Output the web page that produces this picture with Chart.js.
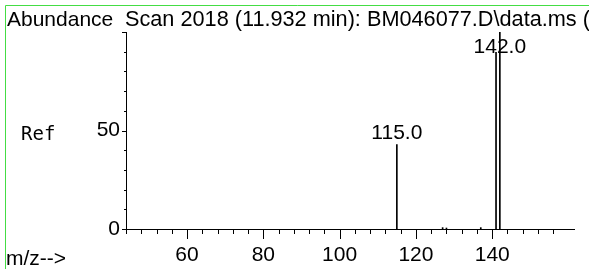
<!DOCTYPE html>
<html>
<head>
<meta charset="utf-8">
<script src="https://cdn.jsdelivr.net/npm/chart.js@4.4.0/dist/chart.umd.min.js"></script>
<style>
  html, body { margin: 0; padding: 0; background: #fff; }
  #wrap { width: 589px; height: 269px; }
</style>
</head>
<body>
<div id="wrap"><canvas id="spectre" width="589" height="269"></canvas></div>
<script>
// Données du spectre
const mzValues = [115, 127, 128, 137, 141, 142];
const abundances = [42.9, 0.7, 0.5, 0.7, 89.7, 100];
const peakLabels = ['115.0', '', '', '', '', '142.0'];
const xTickLabels = [60, 80, 100, 120, 140];
const yTickLabels = [0, 50];
const titleText = 'Scan 2018 (11.932 min): BM046077.D\\data.ms (';

const FONT = '21px "Liberation Sans", Arial, sans-serif';
const TITLE_FONT = '21.7px "Liberation Sans", Arial, sans-serif';
const REF_FONT = '19px "DejaVu Sans Mono", monospace';

// Cadre, axes, graduations et textes
const decorPlugin = {
    id: 'decor',
    beforeDraw(chart) {
        const ctx = chart.ctx;
        ctx.save();
        ctx.fillStyle = '#fff';
        ctx.fillRect(0, 0, chart.width, chart.height);
        ctx.strokeStyle = '#44dd44';
        ctx.lineWidth = 1;
        ctx.beginPath();
        ctx.moveTo(5.5, chart.height);
        ctx.lineTo(5.5, 5.5);
        ctx.lineTo(chart.width, 5.5);
        ctx.stroke();
        ctx.restore();
    },
    afterDraw(chart) {
        const ctx = chart.ctx;
        const x = chart.scales.x;
        const y = chart.scales.y;
        const area = chart.chartArea;
        ctx.save();
        ctx.strokeStyle = '#000';
        ctx.lineWidth = 1;
        ctx.beginPath();
        ctx.moveTo(area.left + 0.5, area.top);
        ctx.lineTo(area.left + 0.5, area.bottom + 0.5);
        ctx.lineTo(area.right, area.bottom + 0.5);
        x.ticks.forEach(t => {
            if (t.value % 4 !== 0) return;
            const px = Math.round(x.getPixelForValue(t.value)) + 0.5;
            const len = t.value % 20 === 0 ? 10 : 5;
            ctx.moveTo(px, area.bottom);
            ctx.lineTo(px, area.bottom + len);
        });
        y.ticks.forEach(t => {
            const py = Math.round(y.getPixelForValue(t.value)) + 0.5;
            const len = t.value % 50 === 0 ? 4 : 2;
            ctx.moveTo(area.left - len, py);
            ctx.lineTo(area.left, py);
        });
        ctx.stroke();

        ctx.fillStyle = '#000';
        ctx.textBaseline = 'alphabetic';
        ctx.font = FONT;
        ctx.fillText('Abundance', 7, 26);
        ctx.fillText('m/z-->', 6, 265);
        ctx.font = TITLE_FONT;
        ctx.fillText(titleText, 125, 26);
        ctx.font = REF_FONT;
        ctx.fillText('Ref', 21, 140);

        // étiquettes des pics
        ctx.font = FONT;
        ctx.textAlign = 'center';
        mzValues.forEach((mz, i) => {
            if (!peakLabels[i]) return;
            const py = Math.max(y.getPixelForValue(abundances[i]) - 5, area.top + 21);
            ctx.fillText(peakLabels[i], x.getPixelForValue(mz), py);
        });
        ctx.restore();
    }
};

new Chart(document.getElementById('spectre'), {
    type: 'bar',
    data: {
        datasets: [{
            data: mzValues.map((mz, i) => ({ x: mz, y: abundances[i] })),
            backgroundColor: '#000',
            borderWidth: 0,
            barThickness: 1
        }]
    },
    options: {
        responsive: false,
        animation: false,
        devicePixelRatio: 1,
        layout: { padding: { left: 86, top: 32, right: 11, bottom: 0 } },
        plugins: { legend: { display: false }, tooltip: { enabled: false } },
        scales: {
            x: {
                type: 'linear',
                offset: false,
                min: 44,
                max: 161.7,
                grid: { display: false, drawTicks: false },
                border: { display: false },
                ticks: {
                    stepSize: 4,
                    autoSkip: false,
                    maxRotation: 0,
                    padding: 14,
                    color: '#000',
                    font: { family: '"Liberation Sans", Arial, sans-serif', size: 21 },
                    callback: v => xTickLabels.includes(v) ? String(v) : ''
                },
                afterFit: s => { s.height = 40; }
            },
            y: {
                min: 0,
                max: 100,
                grid: { display: false, drawTicks: false },
                border: { display: false },
                ticks: {
                    stepSize: 10,
                    autoSkip: false,
                    padding: 6,
                    color: '#000',
                    font: { family: '"Liberation Sans", Arial, sans-serif', size: 21 },
                    callback: v => yTickLabels.includes(v) ? String(v) : ''
                },
                afterFit: s => { s.width = 40; }
            }
        }
    },
    plugins: [decorPlugin]
});
</script>
</body>
</html>
